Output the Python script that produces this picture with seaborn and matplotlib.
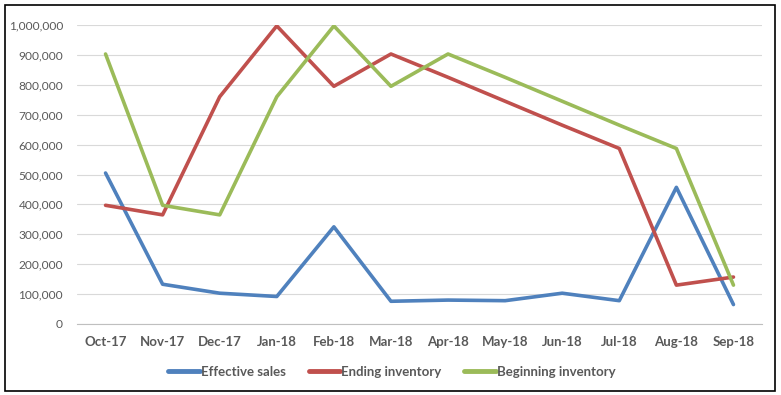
import matplotlib
matplotlib.use("Agg")
import matplotlib.pyplot as plt
import seaborn as sns
import pandas as pd
import numpy as np
from matplotlib.patches import Rectangle
from matplotlib.ticker import FuncFormatter, MultipleLocator

months = ["Oct-17", "Nov-17", "Dec-17", "Jan-18", "Feb-18", "Mar-18",
          "Apr-18", "May-18", "Jun-18", "Jul-18", "Aug-18", "Sep-18"]
effective_sales = [505000, 133000, 103000, 92000, 325000, 76000,
                   80000, 78000, 103000, 78000, 457000, 65000]
ending_inventory = [397000, 365000, 760000, 997000, 795000, 903000,
                    825000, 745000, 665000, 587000, 130000, 157000]
beginning_inventory = [903000, 397000, 365000, 760000, 997000, 795000,
                       903000, 825000, 745000, 665000, 587000, 130000]
series_names = ["Effective sales", "Ending inventory", "Beginning inventory"]
colors = ["#4F81BD", "#C0504D", "#9BBB59"]

rows = []
for name, vals in zip(series_names, [effective_sales, ending_inventory, beginning_inventory]):
    for i, v in enumerate(vals):
        rows.append({"idx": i, "month": months[i], "value": v, "series": name})
df = pd.DataFrame(rows)

sns.set_theme(style="white")
plt.rcParams['font.family'] = ['Lato', 'DejaVu Sans']

fig = plt.figure(figsize=(7.81, 3.95), dpi=100)
ax = fig.add_axes([77/781, 1-324/395, (762-77)/781, (324-25)/395])

sns.lineplot(data=df, x="idx", y="value", hue="series", hue_order=series_names,
             palette=colors, linewidth=2.6, ax=ax, legend=True, sort=False)

ax.set_xlim(-0.5, len(months)-0.5)
ax.set_ylim(0, 1000000)
ax.yaxis.set_major_locator(MultipleLocator(100000))
ax.yaxis.set_major_formatter(FuncFormatter(lambda v, p: f"{int(v):,}"))
ax.set_xticks(range(len(months)))
ax.set_xticklabels(months, fontweight="bold")
ax.set_xticks(np.arange(-0.5, len(months), 1.0), minor=True)
ax.tick_params(axis="x", which="major", length=0, pad=9, labelsize=9.5, colors="#595959")
ax.tick_params(axis="x", which="minor", length=4, color="#BFBFBF", width=0.8)
ax.tick_params(axis="y", length=0, pad=10, labelsize=8.6, colors="#595959")
ax.set_xlabel("")
ax.set_ylabel("")
ax.grid(axis="y", color="#D9D9D9", linewidth=0.8)
ax.set_axisbelow(True)
for s in ["top", "right", "left"]:
    ax.spines[s].set_visible(False)
ax.spines["bottom"].set_color("#BFBFBF")
ax.spines["bottom"].set_linewidth(0.8)

handles, labels = ax.get_legend_handles_labels()
ax.get_legend().remove()
leg = fig.legend(handles, labels, loc="center", bbox_to_anchor=(392/781, 1-372/395),
                 ncol=3, frameon=False, prop={"weight": "bold", "size": 9.5},
                 handlelength=2.4, handletextpad=0.1, columnspacing=1.7)
for t in leg.get_texts():
    t.set_color("#595959")
for line in leg.get_lines():
    line.set_linewidth(3.5)

fig.patches.append(Rectangle((5/781, 1-391/395), (775-5)/781, (391-5)/395,
                             transform=fig.transFigure, fill=False,
                             edgecolor="black", linewidth=1.2))

fig.savefig("out.png", dpi=100)
